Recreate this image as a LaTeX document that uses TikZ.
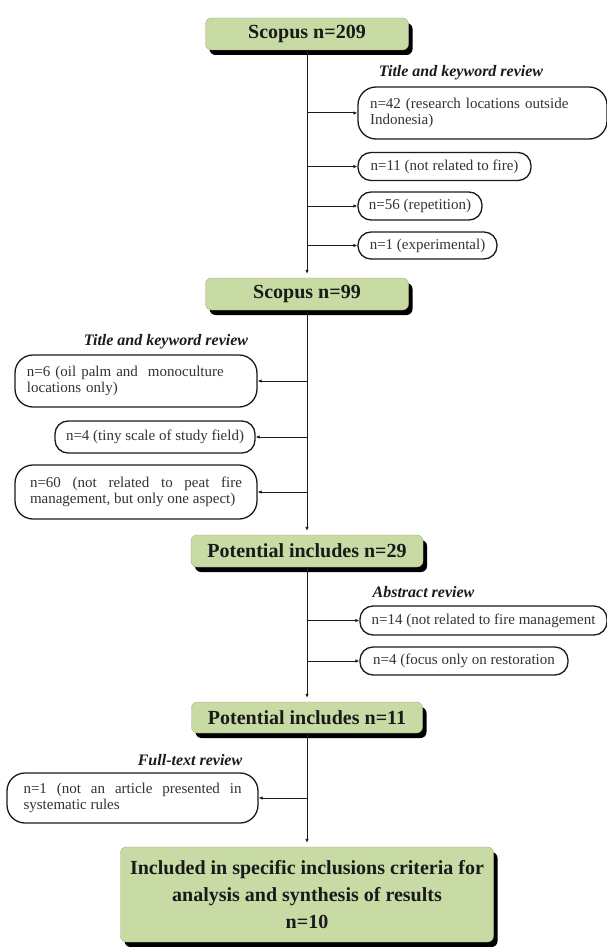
\documentclass[tikz,border=0pt]{standalone}
\usepackage{fontspec}
\setmainfont{Liberation Serif}
\usepackage{tikz}
\usetikzlibrary{arrows.meta,shadows}
\hyphenpenalty=10000
\tolerance=10000
\definecolor{cStage}{HTML}{C8DBA5}
\definecolor{cInk}{HTML}{1A1A1A}
\definecolor{cText}{HTML}{333333}
\tikzset{
  stage/.style  = {fill=cStage, draw=cStage!80!black, line width=0.4pt,
                   rounded corners=6pt, align=center, inner sep=0pt, text=cInk,
                   font=\fontsize{20}{27}\selectfont\bfseries,
                   drop shadow={fill=black, opacity=1, shadow xshift=4pt, shadow yshift=-5pt}},
  excl/.style   = {draw=cInk, line width=1.3pt, fill=white, rounded corners=13pt,
                   inner xsep=8pt, inner ysep=0pt, minimum height=28pt, text=cText,
                   font=\fontsize{15}{15.5}\selectfont},
  excltwo/.style = {excl, rounded corners=18pt, align=left, inner xsep=12pt},
  phase/.style  = {font=\fontsize{16}{18}\selectfont\bfseries\itshape, text=cInk},
  flow/.style   = {-{Latex[length=4pt,width=3.5pt]}, line width=1pt, draw=cInk, shorten >=4pt},
  branch/.style = {-{Latex[length=4pt,width=3.5pt]}, line width=1pt, draw=cInk},
}
\begin{document}
\begin{tikzpicture}[x=1pt, y=-1pt]
  \useasboundingbox (0,0) rectangle (607,947);
  % stages on the spine
  \node[stage, minimum width=203pt, minimum height=32pt] (s209) at (307,34) {Scopus n=209};
  \node[stage, minimum width=203pt, minimum height=32pt] (s99) at (307,294) {Scopus n=99};
  \node[stage, minimum width=232pt, minimum height=32pt] (p29) at (307,551) {Potential includes n=29};
  \node[stage, minimum width=231pt, minimum height=31pt] (p11) at (307,717.5) {Potential includes n=11};
  \node[stage, minimum width=373pt, minimum height=95pt] (final) at (307,894.5)
    {Included in specific inclusions criteria for\\ analysis and synthesis of results\\ n=10};
  % first screen, right
  \node[phase] (h1) at (461,73) {Title and keyword review};
  \node[excltwo, text width=225pt, minimum height=52pt] (x42) at (482.5,113)
    {n=42 (research locations outside\\ Indonesia)};
  \node[excl, minimum width=173pt] (x11) at (444.5,166.5) {n=11 (not related to fire)};
  \node[excl, minimum width=124pt] (x56) at (420,206) {n=56 (repetition)};
  \node[excl, minimum width=139pt, minimum height=27pt] (xexp) at (427.5,245.5) {n=1 (experimental)};
  % second screen, left
  \node[phase] (h2) at (166,342) {Title and keyword review};
  \node[excltwo, text width=218pt, minimum height=52pt] (x6) at (136,381)
    {n=6 (oil palm and\ \ monoculture\\ locations only)};
  \node[excl, minimum width=200pt, minimum height=32pt] (x4) at (155,437) {n=4 (tiny scale of study field)};
  \node[excltwo, align=justify, text width=212pt, inner xsep=15pt, minimum height=54pt] (x60) at (136,492)
    {n=60 (not related to peat fire management, but only one aspect)};
  % abstract screen, right
  \node[phase] (h3) at (423.5,592) {Abstract review};
  \node[excl, minimum width=247pt, minimum height=29pt] (x14) at (483.5,620.5) {n=14 (not related to fire management};
  \node[excl, minimum width=208pt] (xres) at (464,661) {n=4 (focus only on restoration};
  % full text screen, left
  \node[phase] (h4) at (190,760) {Full-text review};
  \node[excltwo, align=justify, text width=218pt, inner xsep=16.5pt, minimum height=50pt] (x1) at (132.5,798)
    {n=1 (not an article presented in systematic rules};

  \draw[flow] (s209) -- (s99);
  \draw[branch] (s209.south |- x42.west) -- (x42.west);
  \draw[branch] (s209.south |- x11.west) -- (x11.west);
  \draw[branch] (s209.south |- x56.west) -- (x56.west);
  \draw[branch] (s209.south |- xexp.west) -- (xexp.west);
  \draw[flow] (s99) -- (p29);
  \draw[branch] (s99.south |- x6.east) -- (x6.east);
  \draw[branch] (s99.south |- x4.east) -- (x4.east);
  \draw[branch] (s99.south |- x60.east) -- (x60.east);
  \draw[flow] (p29) -- (p11);
  \draw[branch] (p29.south |- x14.west) -- (x14.west);
  \draw[branch] (p29.south |- xres.west) -- (xres.west);
  \draw[flow] (p11) -- (final);
  \draw[branch] (p11.south |- x1.east) -- (x1.east);
\end{tikzpicture}
\end{document}
